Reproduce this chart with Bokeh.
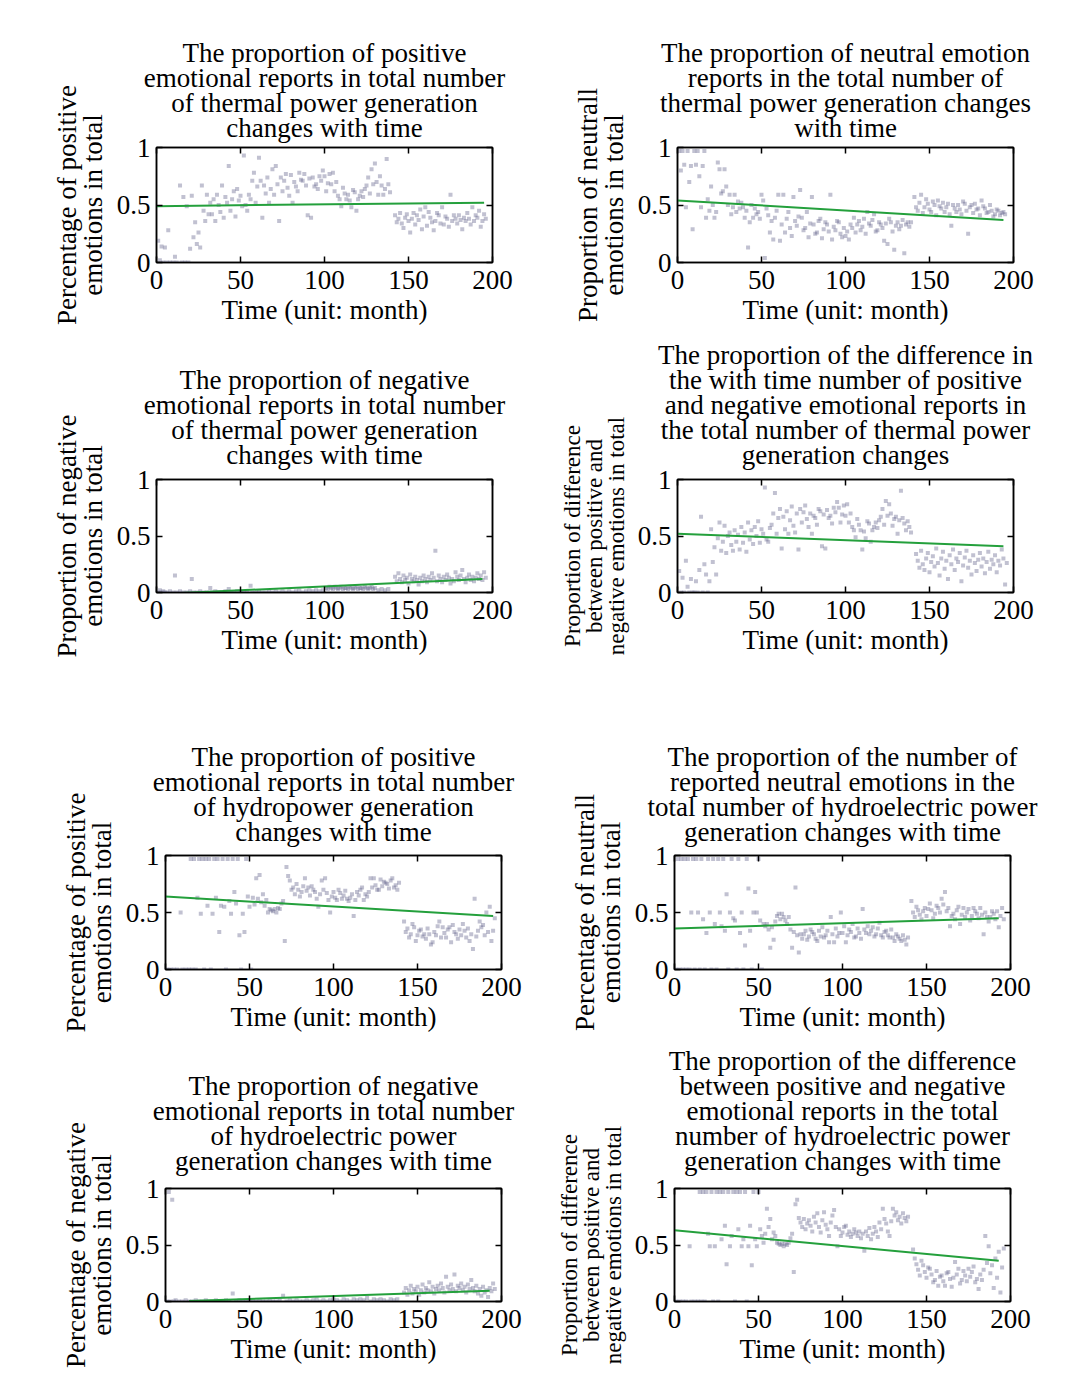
from bokeh.plotting import figure
from bokeh.layouts import column, row
from bokeh.models import LinearAxis, Range1d, FixedTicker, CustomJSTickFormatter, Title
from bokeh.embed import file_html
from bokeh.resources import INLINE

FONT = "Liberation Serif"

x_ticks = [0, 50, 100, 150, 200]
y_ticks = [0, 0.5, 1]
x_label = "Time (unit: month)"

titles = [
    ["The proportion of positive", "emotional reports in total number", "of thermal power generation", "changes with time"],
    ["The proportion of neutral emotion", "reports in the total number of", "thermal power generation changes", "with time"],
    ["The proportion of negative", "emotional reports in total number", "of thermal power generation", "changes with time"],
    ["The proportion of the difference in", "the with time number of positive", "and negative emotional reports in", "the total number of thermal power", "generation changes"],
    ["The proportion of positive", "emotional reports in total number", "of hydropower generation", "changes with time"],
    ["The proportion of the number of", "reported neutral emotions in the", "total number of hydroelectric power", "generation changes with time"],
    ["The proportion of negative", "emotional reports in total number", "of hydroelectric power", "generation changes with time"],
    ["The proportion of the difference", "between positive and negative", "emotional reports in the total", "number of hydroelectric power", "generation changes with time"],
]
y_labels = [
    "Percentage of positive\nemotions in total",
    "Proportion of neutrall\nemotions in total",
    "Proportion of negative\nemotions in total",
    "Proportion of difference\nbetween positive and\nnegative emotions in total",
    "Percentage of positive\nemotions in total",
    "Percentage of neutrall\nemotions in total",
    "Percentage of negative\nemotions in total",
    "Proportion of difference\nbetween positive and\nnegative emotions in total",
]

# (month, proportion) pairs
thermal_positive = [(1,0.19),(2,0.02),(3,0.14),(4,0.0),(5,0.13),(6,0.0),(7,0.28),(8,0.0),(10,0.0),(11,0.05),(12,0.0),(14,0.67),(15,0.0),(16,0.57),(17,0.0),(18,0.49),(19,0.0),(20,0.12),(21,0.58),(22,0.22),(23,0.35),(24,0.16),(25,0.26),(26,0.13),(27,0.67),(28,0.45),(29,0.36),(30,0.59),(31,0.42),(32,0.52),(33,0.42),(34,0.55),(35,0.36),(36,0.59),(37,0.50),(38,0.44),(39,0.67),(40,0.39),(41,0.57),(42,0.52),(43,0.84),(44,0.45),(45,0.55),(46,0.62),(47,0.40),(48,0.64),(49,0.54),(50,0.58),(51,0.49),(52,0.93),(53,0.50),(54,0.45),(55,0.59),(56,0.55),(57,0.71),(58,0.78),(59,0.52),(60,0.66),(61,0.91),(62,0.71),(63,0.39),(64,0.67),(65,0.60),(66,0.74),(67,0.52),(68,0.64),(69,0.81),(70,0.59),(71,0.84),(72,0.68),(73,0.36),(74,0.74),(75,0.62),(76,0.71),(77,0.77),(78,0.65),(79,0.58),(80,0.76),(81,0.52),(82,0.70),(83,0.66),(84,0.62),(85,0.78),(86,0.72),(87,0.71),(88,0.77),(89,0.67),(90,0.41),(91,0.73),(92,0.39),(93,0.74),(94,0.66),(95,0.68),(96,0.64),(97,0.75),(98,0.71),(99,0.80),(100,0.75),(101,0.62),(102,0.69),(103,0.77),(104,0.68),(105,0.78),(106,0.62),(107,0.70),(108,0.58),(109,0.55),(110,0.49),(111,0.65),(112,0.60),(113,0.55),(114,0.59),(115,0.54),(116,0.48),(117,0.63),(118,0.61),(119,0.45),(120,0.55),(121,0.58),(122,0.62),(123,0.57),(124,0.64),(125,0.67),(126,0.74),(127,0.60),(128,0.81),(129,0.68),(130,0.86),(131,0.70),(132,0.59),(133,0.75),(134,0.67),(135,0.59),(136,0.64),(137,0.90),(138,0.68),(139,0.61),(142,0.41),(143,0.35),(144,0.38),(145,0.43),(146,0.34),(147,0.30),(148,0.39),(149,0.42),(150,0.36),(151,0.26),(152,0.38),(153,0.43),(154,0.33),(155,0.41),(156,0.37),(157,0.46),(158,0.29),(159,0.40),(160,0.48),(161,0.32),(162,0.44),(163,0.39),(164,0.35),(165,0.28),(166,0.36),(167,0.43),(168,0.41),(169,0.34),(170,0.48),(171,0.33),(172,0.40),(173,0.38),(174,0.31),(175,0.59),(176,0.36),(177,0.41),(178,0.38),(179,0.34),(180,0.41),(181,0.37),(182,0.29),(183,0.39),(184,0.36),(185,0.43),(186,0.38),(187,0.33),(188,0.48),(189,0.36),(190,0.41),(191,0.39),(192,0.45),(193,0.31),(194,0.36),(195,0.42),(196,0.38)]

thermal_neutral = [(1,0.97),(2,0.80),(3,0.97),(4,0.85),(5,0.48),(6,0.97),(7,0.70),(8,0.84),(9,0.29),(10,0.97),(11,0.85),(12,0.97),(13,0.75),(14,0.48),(15,0.84),(16,0.97),(17,0.39),(18,0.55),(19,0.45),(20,0.66),(21,0.50),(22,0.39),(23,0.44),(24,0.87),(25,0.81),(26,0.60),(27,0.62),(28,0.81),(29,0.66),(30,0.50),(31,0.59),(32,0.42),(33,0.48),(34,0.59),(35,0.44),(36,0.53),(37,0.47),(38,0.52),(39,0.48),(40,0.39),(41,0.45),(42,0.13),(43,0.35),(44,0.50),(45,0.39),(46,0.47),(47,0.42),(48,0.44),(49,0.38),(50,0.59),(51,0.54),(52,0.04),(53,0.47),(54,0.41),(55,0.26),(56,0.36),(57,0.20),(58,0.39),(59,0.45),(60,0.59),(61,0.19),(62,0.33),(63,0.59),(64,0.26),(65,0.38),(66,0.44),(67,0.30),(68,0.23),(69,0.57),(70,0.36),(71,0.32),(72,0.40),(73,0.63),(74,0.39),(75,0.28),(76,0.30),(77,0.44),(78,0.22),(79,0.34),(80,0.57),(81,0.33),(82,0.25),(83,0.26),(84,0.36),(85,0.38),(86,0.21),(87,0.29),(88,0.35),(89,0.33),(90,0.27),(91,0.59),(92,0.20),(93,0.31),(94,0.28),(95,0.36),(96,0.35),(97,0.25),(98,0.22),(99,0.30),(100,0.23),(101,0.27),(102,0.20),(103,0.33),(104,0.30),(105,0.39),(106,0.26),(107,0.33),(108,0.36),(109,0.28),(110,0.31),(111,0.38),(112,0.25),(113,0.44),(114,0.34),(115,0.32),(116,0.37),(117,0.42),(118,0.27),(119,0.28),(120,0.35),(121,0.33),(122,0.30),(123,0.19),(124,0.34),(125,0.16),(126,0.38),(127,0.35),(128,0.27),(129,0.11),(130,0.32),(131,0.35),(132,0.29),(133,0.32),(134,0.37),(135,0.08),(136,0.33),(137,0.35),(138,0.31),(139,0.35),(141,0.57),(142,0.48),(143,0.45),(144,0.52),(145,0.59),(146,0.43),(147,0.48),(148,0.55),(149,0.51),(150,0.46),(151,0.44),(152,0.53),(153,0.50),(154,0.41),(155,0.54),(156,0.49),(157,0.47),(158,0.52),(159,0.44),(160,0.48),(161,0.51),(162,0.42),(163,0.32),(164,0.50),(165,0.47),(166,0.44),(167,0.50),(168,0.46),(169,0.42),(170,0.53),(171,0.51),(172,0.45),(173,0.25),(174,0.48),(175,0.50),(176,0.43),(177,0.51),(178,0.46),(179,0.47),(180,0.41),(181,0.54),(182,0.49),(183,0.47),(184,0.43),(185,0.44),(186,0.50),(187,0.45),(188,0.40),(189,0.42),(190,0.46),(191,0.45),(192,0.41),(193,0.43),(194,0.44),(195,0.42)]

thermal_negative = [(1,0.0),(2,0.02),(3,0.0),(4,0.01),(5,0.0),(6,0.0),(8,0.01),(10,0.0),(11,0.15),(12,0.0),(14,0.01),(16,0.0),(18,0.0),(20,0.01),(21,0.12),(22,0.0),(24,0.0),(26,0.01),(28,0.0),(30,0.0),(32,0.04),(33,0.0),(35,0.01),(37,0.0),(39,0.0),(41,0.01),(43,0.03),(44,0.0),(46,0.0),(48,0.01),(50,0.0),(52,0.0),(54,0.01),(56,0.06),(57,0.0),(59,0.0),(61,0.01),(63,0.0),(65,0.0),(67,0.01),(69,0.0),(71,0.01),(73,0.0),(75,0.01),(77,0.0),(79,0.01),(81,0.0),(83,0.01),(85,0.02),(87,0.0),(89,0.01),(91,0.02),(93,0.01),(95,0.02),(97,0.01),(99,0.02),(101,0.04),(102,0.03),(103,0.05),(104,0.04),(105,0.03),(106,0.05),(107,0.04),(108,0.03),(109,0.04),(110,0.05),(111,0.03),(112,0.04),(113,0.04),(114,0.03),(115,0.05),(116,0.04),(117,0.03),(118,0.04),(119,0.05),(120,0.03),(121,0.04),(122,0.04),(123,0.03),(124,0.05),(125,0.04),(126,0.03),(127,0.04),(128,0.05),(129,0.03),(130,0.04),(132,0.02),(134,0.03),(136,0.02),(138,0.03),(142,0.14),(143,0.10),(144,0.17),(145,0.12),(146,0.09),(147,0.15),(148,0.11),(149,0.13),(150,0.08),(151,0.16),(152,0.12),(153,0.10),(154,0.14),(155,0.11),(156,0.07),(157,0.13),(158,0.10),(159,0.15),(160,0.12),(161,0.09),(162,0.14),(163,0.11),(164,0.17),(165,0.13),(166,0.37),(167,0.10),(168,0.15),(169,0.12),(170,0.09),(171,0.14),(172,0.11),(173,0.16),(174,0.13),(175,0.08),(176,0.12),(177,0.10),(178,0.18),(179,0.14),(180,0.11),(181,0.15),(182,0.20),(183,0.12),(184,0.09),(185,0.13),(186,0.16),(187,0.11),(188,0.14),(189,0.10),(190,0.13),(191,0.17),(192,0.12),(193,0.15),(194,0.11),(195,0.18),(196,0.13)]

thermal_difference = [(1,0.19),(2,0.0),(3,0.13),(4,0.0),(5,0.28),(6,0.05),(7,0.0),(8,0.12),(9,0.0),(10,0.0),(11,0.10),(12,0.0),(13,0.20),(14,0.67),(15,0.0),(16,0.25),(17,0.16),(18,0.0),(19,0.10),(20,0.56),(21,0.27),(22,0.40),(23,0.16),(24,0.48),(25,0.62),(26,0.37),(27,0.45),(28,0.59),(29,0.35),(30,0.50),(31,0.53),(32,0.42),(33,0.37),(34,0.55),(35,0.45),(36,0.51),(37,0.38),(38,0.58),(39,0.44),(40,0.53),(41,0.36),(42,0.62),(43,0.47),(44,0.55),(45,0.43),(46,0.58),(47,0.50),(48,0.63),(49,0.44),(50,0.56),(51,0.52),(52,0.93),(53,0.47),(54,0.45),(55,0.57),(56,0.60),(57,0.70),(58,0.88),(59,0.52),(60,0.66),(61,0.74),(62,0.39),(63,0.67),(64,0.56),(65,0.72),(66,0.52),(67,0.64),(68,0.76),(69,0.59),(70,0.53),(71,0.70),(72,0.38),(73,0.74),(74,0.62),(75,0.71),(76,0.77),(77,0.65),(78,0.58),(79,0.70),(80,0.52),(81,0.68),(82,0.66),(83,0.60),(84,0.74),(85,0.72),(86,0.41),(87,0.69),(88,0.39),(89,0.73),(90,0.66),(91,0.68),(92,0.61),(93,0.75),(94,0.71),(95,0.80),(96,0.75),(97,0.62),(98,0.69),(99,0.77),(100,0.68),(101,0.78),(102,0.62),(103,0.70),(104,0.58),(105,0.55),(106,0.49),(107,0.65),(108,0.60),(109,0.55),(110,0.38),(111,0.54),(112,0.48),(113,0.63),(114,0.61),(115,0.45),(116,0.55),(117,0.58),(118,0.62),(119,0.57),(120,0.64),(121,0.67),(122,0.74),(123,0.60),(124,0.81),(125,0.68),(126,0.78),(127,0.70),(128,0.59),(129,0.65),(130,0.67),(131,0.52),(132,0.64),(133,0.90),(134,0.66),(135,0.61),(136,0.55),(137,0.63),(138,0.58),(139,0.53),(142,0.34),(143,0.28),(144,0.22),(145,0.37),(146,0.25),(147,0.20),(148,0.30),(149,0.35),(150,0.18),(151,0.27),(152,0.32),(153,0.23),(154,0.39),(155,0.26),(156,0.15),(157,0.30),(158,0.36),(159,0.21),(160,0.28),(161,0.12),(162,0.33),(163,0.25),(164,0.38),(165,0.20),(166,0.30),(167,0.27),(168,0.35),(169,0.10),(170,0.24),(171,0.31),(172,0.37),(173,0.22),(174,0.28),(175,0.16),(176,0.33),(177,0.26),(178,0.19),(179,0.29),(180,0.35),(181,0.23),(182,0.30),(183,0.17),(184,0.27),(185,0.36),(186,0.21),(187,0.29),(188,0.25),(189,0.33),(190,0.18),(191,0.28),(192,0.24),(193,0.38),(194,0.30),(195,0.07),(196,0.26)]

hydro_positive = [(1,0.0),(3,0.0),(5,0.0),(7,0.0),(9,0.50),(10,0.0),(12,0.0),(14,0.0),(15,0.97),(16,0.0),(17,0.97),(18,0.0),(19,0.63),(20,0.97),(21,0.49),(22,0.97),(23,0.0),(24,0.97),(25,0.56),(26,0.97),(27,0.0),(28,0.49),(29,0.97),(30,0.63),(31,0.97),(32,0.33),(33,0.56),(34,0.97),(35,0.55),(36,0.0),(37,0.97),(38,0.60),(39,0.49),(40,0.97),(41,0.68),(42,0.58),(43,0.97),(44,0.30),(45,0.0),(46,0.49),(47,0.33),(48,0.97),(49,0.64),(50,0.55),(51,0.0),(52,0.63),(53,0.57),(54,0.80),(55,0.62),(56,0.83),(57,0.59),(58,0.66),(59,0.56),(60,0.61),(61,0.50),(62,0.53),(63,0.52),(64,0.51),(65,0.53),(66,0.50),(67,0.54),(68,0.53),(69,0.58),(70,0.60),(71,0.25),(72,0.90),(73,0.82),(74,0.78),(75,0.70),(76,0.72),(77,0.66),(78,0.75),(79,0.70),(80,0.64),(81,0.68),(82,0.73),(83,0.80),(84,0.69),(85,0.72),(86,0.65),(87,0.73),(88,0.70),(89,0.68),(90,0.62),(91,0.55),(92,0.66),(93,0.78),(94,0.70),(95,0.80),(96,0.67),(97,0.61),(98,0.50),(99,0.64),(100,0.68),(101,0.63),(102,0.61),(103,0.70),(104,0.67),(105,0.62),(106,0.65),(107,0.69),(108,0.62),(109,0.60),(110,0.63),(111,0.66),(112,0.47),(113,0.61),(114,0.68),(115,0.65),(116,0.70),(117,0.72),(118,0.61),(119,0.66),(120,0.64),(121,0.68),(122,0.80),(123,0.72),(124,0.80),(125,0.74),(126,0.70),(127,0.70),(128,0.79),(129,0.73),(130,0.77),(131,0.76),(132,0.75),(133,0.71),(134,0.78),(135,0.80),(136,0.72),(137,0.74),(138,0.70),(139,0.76),(142,0.42),(143,0.33),(144,0.36),(145,0.28),(146,0.31),(147,0.40),(148,0.37),(149,0.25),(150,0.30),(151,0.34),(152,0.35),(153,0.29),(154,0.31),(155,0.27),(156,0.36),(157,0.31),(158,0.22),(159,0.24),(160,0.33),(161,0.30),(162,0.38),(163,0.42),(164,0.28),(165,0.37),(166,0.32),(167,0.28),(168,0.35),(169,0.37),(170,0.24),(171,0.39),(172,0.33),(173,0.31),(174,0.27),(175,0.35),(176,0.30),(177,0.40),(178,0.34),(179,0.28),(180,0.36),(181,0.25),(182,0.31),(183,0.18),(184,0.62),(185,0.29),(186,0.34),(187,0.42),(188,0.37),(189,0.39),(190,0.30),(191,0.50),(192,0.33),(193,0.55),(194,0.25),(195,0.34),(196,0.45)]

hydro_neutral = [(1,0.0),(2,0.97),(3,0.0),(4,0.97),(5,0.0),(6,0.97),(7,0.0),(8,0.97),(9,0.0),(10,0.50),(11,0.97),(12,0.0),(13,0.97),(14,0.50),(15,0.0),(16,0.97),(17,0.44),(18,0.0),(19,0.32),(20,0.97),(21,0.50),(22,0.0),(23,0.97),(24,0.40),(25,0.0),(26,0.97),(27,0.50),(28,0.38),(29,0.97),(30,0.34),(31,0.66),(32,0.0),(33,0.50),(34,0.97),(35,0.45),(36,0.43),(37,0.0),(38,0.97),(39,0.32),(40,0.50),(41,0.0),(42,0.21),(43,0.97),(44,0.71),(45,0.34),(46,0.0),(47,0.50),(48,0.68),(49,0.50),(50,0.97),(51,0.43),(52,0.0),(53,0.40),(54,0.38),(55,0.40),(56,0.35),(57,0.19),(58,0.37),(59,0.26),(60,0.42),(61,0.47),(62,0.49),(63,0.44),(64,0.49),(65,0.46),(66,0.43),(67,0.40),(68,0.46),(69,0.35),(70,0.19),(71,0.33),(72,0.72),(73,0.30),(74,0.15),(75,0.31),(76,0.27),(77,0.31),(78,0.34),(79,0.26),(80,0.29),(81,0.35),(82,0.33),(83,0.31),(84,0.27),(85,0.25),(86,0.34),(87,0.29),(88,0.37),(89,0.28),(90,0.30),(91,0.34),(92,0.24),(93,0.46),(94,0.31),(95,0.24),(96,0.36),(97,0.29),(98,0.32),(99,0.50),(100,0.32),(101,0.38),(102,0.24),(103,0.30),(104,0.35),(105,0.33),(106,0.40),(107,0.28),(108,0.29),(109,0.36),(110,0.32),(111,0.27),(112,0.53),(113,0.35),(114,0.32),(115,0.38),(116,0.31),(117,0.34),(118,0.37),(119,0.29),(120,0.31),(121,0.36),(122,0.41),(123,0.30),(124,0.28),(125,0.33),(126,0.34),(127,0.30),(128,0.28),(129,0.35),(130,0.28),(131,0.25),(132,0.31),(133,0.29),(134,0.27),(135,0.25),(136,0.30),(137,0.26),(138,0.22),(139,0.28),(141,0.60),(142,0.50),(143,0.46),(144,0.55),(145,0.52),(146,0.48),(147,0.44),(148,0.51),(149,0.54),(150,0.47),(151,0.53),(152,0.58),(153,0.52),(154,0.45),(155,0.49),(156,0.56),(157,0.54),(158,0.50),(159,0.62),(160,0.57),(161,0.68),(162,0.51),(163,0.54),(164,0.38),(165,0.47),(166,0.49),(167,0.44),(168,0.52),(169,0.55),(170,0.40),(171,0.48),(172,0.54),(173,0.46),(174,0.50),(175,0.53),(176,0.43),(177,0.47),(178,0.54),(179,0.51),(180,0.49),(181,0.45),(182,0.54),(183,0.48),(184,0.31),(185,0.50),(186,0.46),(187,0.42),(188,0.46),(189,0.51),(190,0.49),(191,0.44),(192,0.51),(193,0.37),(194,0.47),(195,0.54),(196,0.44)]

hydro_negative = [(1,0.0),(2,0.97),(3,0.0),(4,0.90),(5,0.0),(6,0.01),(8,0.0),(10,0.0),(12,0.01),(14,0.0),(16,0.0),(18,0.01),(20,0.0),(22,0.0),(24,0.01),(26,0.0),(28,0.0),(30,0.01),(32,0.0),(34,0.0),(36,0.01),(38,0.0),(40,0.07),(42,0.0),(44,0.01),(46,0.0),(48,0.0),(50,0.01),(52,0.0),(54,0.0),(56,0.01),(58,0.0),(60,0.0),(62,0.01),(64,0.0),(66,0.0),(68,0.01),(70,0.05),(72,0.0),(74,0.01),(76,0.0),(78,0.01),(80,0.0),(82,0.0),(84,0.01),(86,0.0),(88,0.01),(90,0.02),(92,0.0),(94,0.01),(96,0.0),(98,0.01),(100,0.02),(102,0.01),(104,0.0),(106,0.02),(108,0.01),(110,0.0),(112,0.02),(114,0.01),(116,0.02),(118,0.01),(120,0.03),(122,0.0),(124,0.02),(126,0.01),(128,0.02),(130,0.01),(132,0.0),(134,0.02),(136,0.01),(138,0.02),(142,0.08),(143,0.12),(144,0.06),(145,0.10),(146,0.14),(147,0.07),(148,0.11),(149,0.09),(150,0.13),(151,0.06),(152,0.10),(153,0.15),(154,0.08),(155,0.12),(156,0.10),(157,0.17),(158,0.09),(159,0.13),(160,0.07),(161,0.11),(162,0.14),(163,0.10),(164,0.16),(165,0.12),(166,0.08),(167,0.22),(168,0.13),(169,0.10),(170,0.15),(171,0.11),(172,0.24),(173,0.09),(174,0.14),(175,0.12),(176,0.16),(177,0.10),(178,0.13),(179,0.08),(180,0.15),(181,0.11),(182,0.19),(183,0.12),(184,0.09),(185,0.14),(186,0.07),(187,0.11),(188,0.05),(189,0.13),(190,0.08),(191,0.10),(192,0.04),(193,0.12),(194,0.09),(195,0.16),(196,0.11)]

hydro_difference = [(1,0.0),(3,0.0),(5,0.0),(7,0.0),(9,0.49),(10,0.0),(12,0.0),(14,0.0),(15,0.97),(16,0.0),(17,0.97),(18,0.0),(19,0.97),(20,0.60),(21,0.49),(22,0.97),(23,0.0),(24,0.49),(25,0.97),(26,0.0),(27,0.97),(28,0.55),(29,0.97),(30,0.67),(31,0.33),(32,0.97),(33,0.49),(34,0.58),(35,0.97),(36,0.0),(37,0.97),(38,0.64),(39,0.97),(40,0.49),(41,0.55),(42,0.97),(43,0.0),(44,0.49),(45,0.67),(46,0.32),(47,0.97),(48,0.55),(49,0.49),(50,0.97),(51,0.64),(52,0.58),(53,0.52),(54,0.60),(55,0.82),(56,0.66),(57,0.73),(58,0.55),(59,0.61),(60,0.58),(61,0.52),(62,0.51),(63,0.50),(64,0.51),(65,0.49),(66,0.51),(67,0.50),(68,0.52),(69,0.56),(70,0.60),(71,0.26),(72,0.86),(73,0.90),(74,0.74),(75,0.70),(76,0.66),(77,0.73),(78,0.64),(79,0.69),(80,0.72),(81,0.67),(82,0.62),(83,0.75),(84,0.70),(85,0.78),(86,0.66),(87,0.61),(88,0.72),(89,0.79),(90,0.68),(91,0.64),(92,0.58),(93,0.70),(94,0.76),(95,0.81),(96,0.66),(97,0.49),(98,0.64),(99,0.58),(100,0.61),(101,0.66),(102,0.67),(103,0.59),(104,0.62),(105,0.57),(106,0.60),(107,0.64),(108,0.61),(109,0.58),(110,0.62),(111,0.56),(112,0.60),(113,0.45),(114,0.62),(115,0.58),(116,0.65),(117,0.55),(118,0.60),(119,0.66),(120,0.62),(121,0.57),(122,0.70),(123,0.64),(124,0.82),(125,0.73),(126,0.69),(127,0.62),(128,0.58),(129,0.71),(130,0.82),(131,0.76),(132,0.79),(133,0.72),(134,0.75),(135,0.69),(136,0.78),(137,0.74),(138,0.71),(139,0.75),(142,0.46),(143,0.38),(144,0.33),(145,0.28),(146,0.23),(147,0.36),(148,0.32),(149,0.26),(150,0.21),(151,0.30),(152,0.29),(153,0.24),(154,0.17),(155,0.19),(156,0.27),(157,0.14),(158,0.22),(159,0.23),(160,0.18),(161,0.14),(162,0.25),(163,0.26),(164,0.20),(165,0.13),(166,0.21),(167,0.35),(168,0.24),(169,0.29),(170,0.16),(171,0.19),(172,0.27),(173,0.23),(174,0.18),(175,0.29),(176,0.22),(177,0.26),(178,0.31),(179,0.17),(180,0.20),(181,0.11),(182,0.24),(183,0.19),(184,0.28),(185,0.58),(186,0.34),(187,0.49),(188,0.25),(189,0.32),(190,0.12),(191,0.38),(192,0.21),(193,0.44),(194,0.08),(195,0.30),(196,0.47)]

series = [thermal_positive, thermal_neutral, thermal_negative, thermal_difference,
          hydro_positive, hydro_neutral, hydro_negative, hydro_difference]

# linear trend end points (month, proportion)
trend_months = [[0, 195], [0, 194], [0, 194], [0, 194], [0, 195], [0, 193], [14, 193], [0, 193]]
trend_values = [[0.49, 0.52], [0.54, 0.37], [-0.015, 0.12], [0.52, 0.41],
                [0.64, 0.47], [0.36, 0.45], [0.005, 0.095], [0.63, 0.36]]

ylabel_sizes = ["27px", "27px", "27px", "23px", "27px", "27px", "27px", "23px"]

# layout geometry: row -> (height, min_border_top, min_border_bottom, title gap)
rows_geom = [(335, 147, 73, 8), (365, 144, 108, 13), (340, 155, 71, 12), (345, 148, 84, 16)]
# row -> [(width, min_border_left) for left and right column]
cols_geom = [[(528, 156), (525, 149)], [(528, 156), (525, 149)],
             [(528, 165), (525, 146)], [(528, 165), (525, 146)]]
FRAME_W = 336

fmt = CustomJSTickFormatter(code="return String(tick);")


def style_axis(ax, ticks, show_labels):
    ax.ticker = FixedTicker(ticks=ticks)
    ax.major_tick_in = 6
    ax.major_tick_out = 0
    ax.minor_tick_line_color = None
    ax.axis_line_width = 1.5
    ax.axis_line_color = "black"
    ax.major_tick_line_color = "black"
    ax.major_tick_line_width = 1.5
    ax.major_label_text_font = FONT
    ax.major_label_text_font_size = "27px"
    ax.major_label_standoff = 6
    ax.axis_label_text_font = FONT
    ax.axis_label_text_font_style = "normal"
    ax.axis_label_text_color = "black"
    ax.formatter = fmt
    if show_labels:
        ax.major_label_text_color = "black"
    else:
        ax.major_label_text_color = None
        ax.major_label_standoff = 0


def make_panel(i, r, c):
    h, mbt, mbb, gap = rows_geom[r]
    w, mbl = cols_geom[r][c]
    p = figure(width=w, height=h, x_range=Range1d(0, 200), y_range=Range1d(0, 1),
               output_backend="svg", toolbar_location=None, title=None,
               min_border_left=mbl, min_border_right=w - mbl - FRAME_W,
               min_border_top=mbt, min_border_bottom=mbb)
    p.grid.visible = False
    p.outline_line_color = "black"
    p.outline_line_width = 1.5
    p.background_fill_color = "white"
    p.border_fill_color = "white"

    xa = p.below[0]
    ya = p.left[0]
    style_axis(xa, x_ticks, True)
    style_axis(ya, y_ticks, True)
    xa.major_label_standoff = 8
    xa.axis_label = x_label
    xa.axis_label_text_font_size = "27px"
    xa.axis_label_standoff = 3
    ya.axis_label = y_labels[i]
    ya.axis_label_text_font_size = ylabel_sizes[i]
    ya.axis_label_text_line_height = 0.87
    ya.axis_label_standoff = 6

    # mirrored axes with inward ticks only (added first so they hug the frame)
    top = LinearAxis()
    style_axis(top, x_ticks, False)
    right = LinearAxis()
    style_axis(right, y_ticks, False)
    p.add_layout(top, "above")
    p.add_layout(right, "right")

    # invisible spacer between the frame and the title block
    spacer = LinearAxis()
    style_axis(spacer, x_ticks, False)
    spacer.axis_line_color = None
    spacer.major_tick_line_color = None
    spacer.major_tick_in = 0
    spacer.major_tick_out = gap
    p.add_layout(spacer, "above")

    # title lines, nearest the frame first
    for line in reversed(titles[i]):
        t = Title(text=line, align="center", text_font=FONT, text_font_size="27px",
                  text_font_style="normal", text_color="black", standoff=-7)
        p.add_layout(t, "above")

    months = [t for t, v in series[i]]
    vals = [v for t, v in series[i]]
    p.scatter(months, vals, marker="square", size=4, fill_color="#5c5c85",
              fill_alpha=0.38, line_color=None)
    p.line(trend_months[i], trend_values[i], line_color="#24a03c", line_width=2)
    return p


rows = []
for r in range(4):
    rows.append(row(make_panel(2 * r, r, 0), make_panel(2 * r + 1, r, 1), spacing=0))

layout = column(*rows, spacing=0)

open("out.html", "w").write(file_html(layout, INLINE))
